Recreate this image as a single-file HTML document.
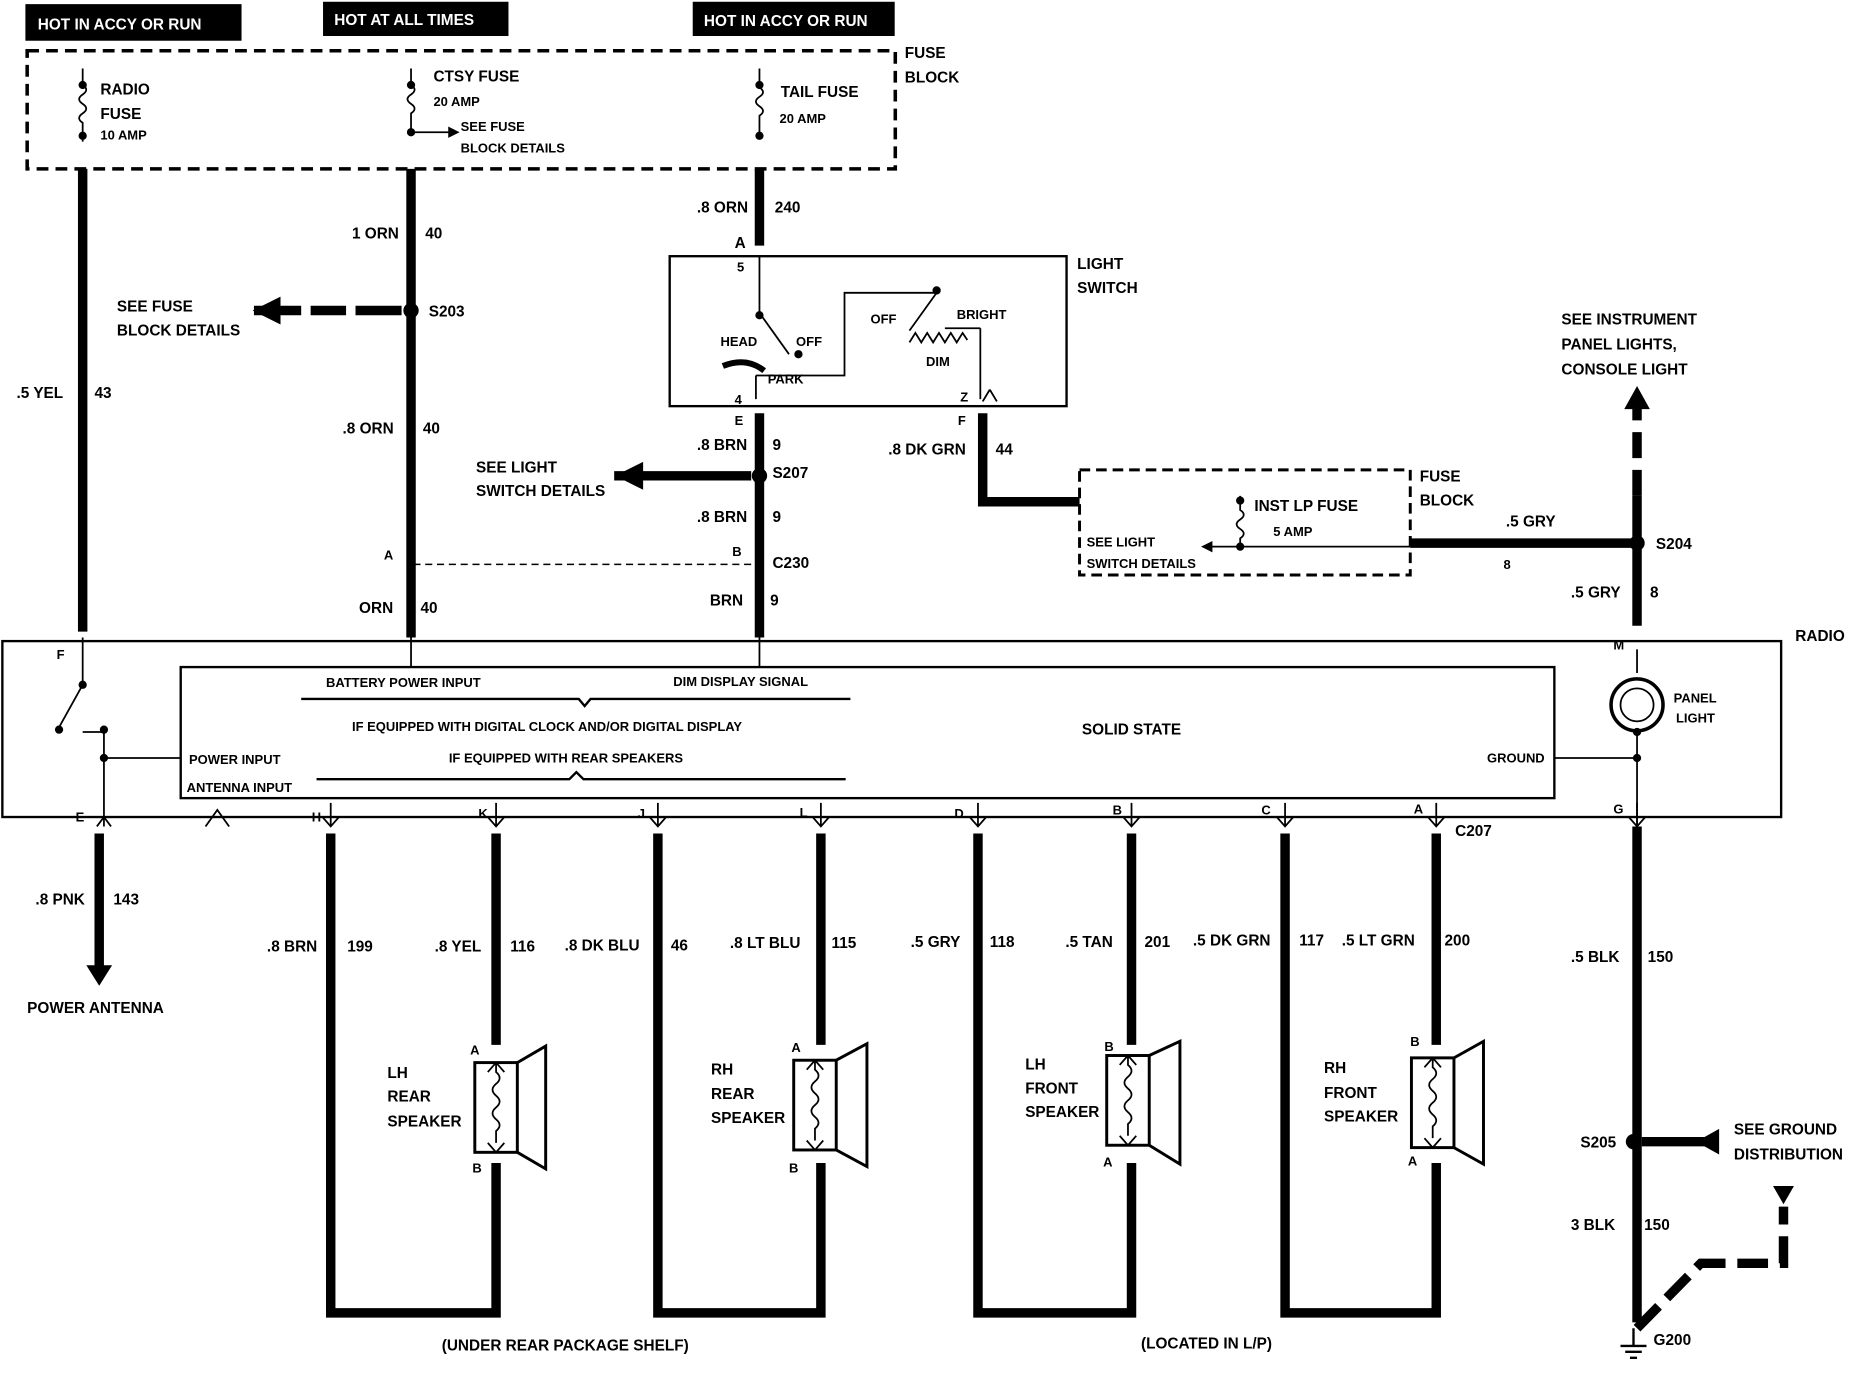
<!DOCTYPE html>
<html><head><meta charset="utf-8"><style>
html,body{margin:0;padding:0;background:#fff;}
svg{display:block}
text{font-family:"Liberation Sans",sans-serif;font-weight:bold;font-size:13px;fill:#000}
.s{font-size:11px}
.w{fill:#fff}
</style></head><body>
<svg width="1852" height="1392" viewBox="0 0 1568 1179" preserveAspectRatio="none" xmlns="http://www.w3.org/2000/svg">
<g stroke="#000" fill="none">
<rect x="22" y="4" width="182" height="30" fill="#000"/>
<rect x="274" y="2" width="156" height="28" fill="#000"/>
<rect x="587" y="2" width="170" height="28" fill="#000"/>
<rect x="23" y="43" width="735" height="100" stroke-width="3" stroke-dasharray="10,6"/>
<rect x="914" y="398" width="280" height="89" stroke-width="2.5" stroke-dasharray="9,5"/>
<path d="M70,58 V72 q6,4 0,8 q-6,4 0,8 q6,4 0,8 q-6,4 0,8 V120 M348,58 V72 q6,4 0,8 q-6,4 0,8 q6,4 0,8 V112 H380 M643,58 V74 q6,4 0,8 q-6,4 0,8 q6,4 0,8 V115 M1050,420 V432 q6,4 0,8 q-6,4 0,8 q6,4 0,8 V463 H1025 M1050,463 H1194" stroke-width="1.5"/>
<circle cx="70" cy="72" r="3" fill="#000"/><circle cx="70" cy="115" r="3" fill="#000"/><circle cx="348" cy="72" r="3" fill="#000"/><circle cx="348" cy="112" r="3" fill="#000"/><circle cx="643" cy="72" r="3" fill="#000"/><circle cx="643" cy="115" r="3" fill="#000"/><circle cx="1050" cy="463" r="3" fill="#000"/><circle cx="1050" cy="424" r="3" fill="#000"/>
<path d="M380,108 l8,4 l-8,4z M1018,463 l8,-4 v8z" fill="#000"/>
<g stroke-width="8">
<path d="M70,143 V535 M348,143 V540 M643,143 V208 M643,350 V540 M832,350 V425 H914 M1194,460 H1386 M1386,420 V530 M84,706 V818"/>
<path d="M1386,700 V1120"/>
<path d="M1386,1125 L1440,1070 H1510 V1022" stroke-dasharray="26,10"/>
<path d="M1386,420 V345" stroke-dasharray="22,10"/>
<path d="M280,706 V1112 H420 V985 M420,706 V885 M557,706 V1112 H695 V985 M695,706 V885 M828,706 V1112 H958 V985 M958,706 V885 M1088,706 V1112 H1216 V985 M1216,706 V885"/>
<path d="M215,263 H340" stroke-dasharray="40,8,30,8"/>
<path d="M520,403 H636"/>
<path d="M1390,967 H1445"/>
</g>
<path d="M215,263 l22,-11 v22z M522,403 l22,-11 v22z M1386,328 l-10,18 h20z M84,834 l-10,-16 h20z M1455,957 v20 l-18,-10z M1502,1005 h16 l-8,14z" fill="#000"/>
<circle cx="348" cy="263" r="6" fill="#000"/><circle cx="643" cy="403" r="6" fill="#000"/><circle cx="1386" cy="460" r="6" fill="#000"/><circle cx="1383" cy="967" r="6" fill="#000"/>
<path d="M1372,1140 H1394 M1376,1145 H1390 M1380,1150 H1386 M1383,1125 V1140" stroke-width="2"/>
<path d="M350,478 H640" stroke-width="1.2" stroke-dasharray="6,4"/>
<rect x="567" y="217" width="336" height="127" stroke-width="2"/>
<path d="M643,217 V265 L668,300 M640,318 H715 V248 H793 L770,280 M830,278 V338 M640,318 V338 M800,278 H830" stroke-width="1.5"/>
<path d="M770,290 l5,-8 l5,8 l5,-8 l5,8 l5,-8 l5,8 l5,-8 l5,8 l5,-8 l4,6" stroke-width="1.5"/>
<path d="M612,310 q20,-8 35,4" stroke-width="5"/>
<circle cx="643" cy="267" r="3" fill="#000"/><circle cx="676" cy="300" r="3" fill="#000"/><circle cx="793" cy="246" r="3" fill="#000"/>
<rect x="2" y="543" width="1506" height="149" stroke-width="2"/>
<rect x="153" y="565" width="1163" height="111" stroke-width="2"/>
<path d="M70,540 V580 L50,616 M70,620 H88 M88,618 V700 M88,642 H153 M1316,642 H1386 M1386,550 V570 M1386,620 V700 M348,540 V565 M643,540 V565" stroke-width="1.5"/>
<circle cx="70" cy="580" r="3" fill="#000"/><circle cx="50" cy="618" r="3" fill="#000"/><circle cx="88" cy="618" r="3" fill="#000"/><circle cx="88" cy="642" r="3" fill="#000"/><circle cx="1386" cy="642" r="3" fill="#000"/><circle cx="1386" cy="620" r="3" fill="#000"/>
<circle cx="1386" cy="597" r="22" stroke-width="3"/><circle cx="1386" cy="597" r="14" stroke-width="1.5"/>
<path d="M255,592 H490 l5,6 l5,-6 H720 M268,660 H482 l6,-6 l6,6 H716" stroke-width="2"/>
<path d="M174,700 l10,-14 l10,14" stroke-width="1.5"/>
<g stroke-width="1.5">
<path d="M280,680 V700 M273,692 l7,8 l7,-8 M420,680 V700 M413,692 l7,8 l7,-8 M557,680 V700 M550,692 l7,8 l7,-8 M695,680 V700 M688,692 l7,8 l7,-8 M828,680 V700 M821,692 l7,8 l7,-8 M958,680 V700 M951,692 l7,8 l7,-8 M1088,680 V700 M1081,692 l7,8 l7,-8 M1216,680 V700 M1209,692 l7,8 l7,-8 M1386,680 V700 M1379,692 l7,8 l7,-8 M88,692 l-6,8 M88,692 l6,8 M838,330 l-6,10 M838,330 l6,10"/>
</g>
<g stroke-width="2.5">
<rect x="402" y="900" width="36" height="76"/><path d="M438,900 L462,886 V990 L438,976"/>
<rect x="672" y="898" width="36" height="76"/><path d="M708,898 L734,884 V988 L708,974"/>
<rect x="937" y="894" width="36" height="76"/><path d="M973,894 L999,882 V986 L973,970"/>
<rect x="1195" y="896" width="36" height="76"/><path d="M1231,896 L1256,882 V986 L1231,972"/>
</g>
<g stroke-width="1.5">
<path d="M420,900 v8 q6,5 0,10 q-6,5 0,10 q6,5 0,10 q-6,5 0,10 q6,5 0,10 v10 M413,908 l7,-8 l7,8 M413,968 l7,8 l7,-8"/>
<path d="M690,898 v8 q6,5 0,10 q-6,5 0,10 q6,5 0,10 q-6,5 0,10 q6,5 0,10 v10 M683,906 l7,-8 l7,8 M683,966 l7,8 l7,-8"/>
<path d="M955,894 v8 q6,5 0,10 q-6,5 0,10 q6,5 0,10 q-6,5 0,10 q6,5 0,10 v10 M948,902 l7,-8 l7,8 M948,962 l7,8 l7,-8"/>
<path d="M1213,896 v8 q6,5 0,10 q-6,5 0,10 q6,5 0,10 q-6,5 0,10 q6,5 0,10 v10 M1206,904 l7,-8 l7,8 M1206,964 l7,8 l7,-8"/>
</g>
</g>
<text class="w" x="32" y="25" font-size="14">HOT IN ACCY OR RUN</text>
<text class="w" x="283" y="21" font-size="14">HOT AT ALL TIMES</text>
<text class="w" x="596" y="22" font-size="14">HOT IN ACCY OR RUN</text>
<text x="766" y="49">FUSE</text><text x="766" y="70">BLOCK</text>
<text x="85" y="80">RADIO</text><text x="85" y="101">FUSE</text><text class="s" x="85" y="118">10 AMP</text>
<text x="367" y="69">CTSY FUSE</text><text class="s" x="367" y="90">20 AMP</text><text class="s" x="390" y="111">SEE FUSE</text><text class="s" x="390" y="129">BLOCK DETAILS</text>
<text x="661" y="82">TAIL FUSE</text><text class="s" x="660" y="104">20 AMP</text>
<text x="298" y="202">1 ORN</text><text x="360" y="202">40</text>
<text x="590" y="180">.8 ORN</text><text x="656" y="180">240</text>
<text x="99" y="264">SEE FUSE</text><text x="99" y="284">BLOCK DETAILS</text>
<text x="363" y="268">S203</text>
<text x="912" y="228">LIGHT</text><text x="912" y="248">SWITCH</text>
<text x="622" y="210">A</text><text class="s" x="624" y="230">5</text>
<text class="s" x="610" y="293">HEAD</text><text class="s" x="674" y="293">OFF</text><text class="s" x="650" y="325">PARK</text>
<text class="s" x="737" y="274">OFF</text><text class="s" x="810" y="270">BRIGHT</text><text class="s" x="784" y="310">DIM</text>
<text class="s" x="622" y="342">4</text><text class="s" x="813" y="340">Z</text>
<text x="14" y="337">.5 YEL</text><text x="80" y="337">43</text>
<text x="290" y="367">.8 ORN</text><text x="358" y="367">40</text>
<text class="s" x="622" y="360">E</text><text class="s" x="811" y="360">F</text>
<text x="590" y="381">.8 BRN</text><text x="654" y="381">9</text>
<text x="752" y="385">.8 DK GRN</text><text x="843" y="385">44</text>
<text x="403" y="400">SEE LIGHT</text><text x="403" y="420">SWITCH DETAILS</text>
<text x="654" y="405">S207</text>
<text x="1202" y="408">FUSE</text><text x="1202" y="428">BLOCK</text>
<text x="1062" y="433">INST LP FUSE</text><text class="s" x="1078" y="454">5 AMP</text>
<text class="s" x="920" y="463">SEE LIGHT</text><text class="s" x="920" y="481">SWITCH DETAILS</text>
<text x="1275" y="446">.5 GRY</text><text x="1402" y="465">S204</text><text class="s" x="1273" y="482">8</text>
<text x="1322" y="275">SEE INSTRUMENT</text><text x="1322" y="296">PANEL LIGHTS,</text><text x="1322" y="317">CONSOLE LIGHT</text>
<text x="590" y="442">.8 BRN</text><text x="654" y="442">9</text>
<text class="s" x="620" y="471">B</text><text x="654" y="481">C230</text><text class="s" x="325" y="474">A</text>
<text x="304" y="519">ORN</text><text x="356" y="519">40</text>
<text x="601" y="513">BRN</text><text x="652" y="513">9</text>
<text x="1330" y="506">.5 GRY</text><text x="1397" y="506">8</text>
<text x="1520" y="543">RADIO</text>
<text class="s" x="1366" y="550">M</text>
<text class="s" x="48" y="558">F</text>
<text class="s" x="276" y="582">BATTERY POWER INPUT</text><text class="s" x="570" y="581">DIM DISPLAY SIGNAL</text>
<text class="s" x="298" y="619">IF EQUIPPED WITH DIGITAL CLOCK AND/OR DIGITAL DISPLAY</text>
<text x="916" y="622">SOLID STATE</text>
<text class="s" x="1417" y="595">PANEL</text><text class="s" x="1419" y="612">LIGHT</text>
<text class="s" x="160" y="647">POWER INPUT</text><text class="s" x="380" y="646">IF EQUIPPED WITH REAR SPEAKERS</text>
<text class="s" x="1259" y="646">GROUND</text><text class="s" x="158" y="671">ANTENNA INPUT</text>
<text class="s" x="64" y="696">E</text><text class="s" x="264" y="696">H</text><text class="s" x="405" y="693">K</text><text class="s" x="540" y="693">J</text><text class="s" x="677" y="692">L</text><text class="s" x="808" y="693">D</text><text class="s" x="942" y="690">B</text><text class="s" x="1068" y="690">C</text><text class="s" x="1197" y="689">A</text><text class="s" x="1366" y="689">G</text>
<text x="1232" y="708">C207</text>
<text x="30" y="766">.8 PNK</text><text x="96" y="766">143</text>
<text x="23" y="858">POWER ANTENNA</text>
<text x="226" y="806">.8 BRN</text><text x="294" y="806">199</text>
<text x="368" y="806">.8 YEL</text><text x="432" y="806">116</text>
<text x="478" y="805">.8 DK BLU</text><text x="568" y="805">46</text>
<text x="618" y="803">.8 LT BLU</text><text x="704" y="803">115</text>
<text x="771" y="802">.5 GRY</text><text x="838" y="802">118</text>
<text x="902" y="802">.5 TAN</text><text x="969" y="802">201</text>
<text x="1010" y="801">.5 DK GRN</text><text x="1100" y="801">117</text>
<text x="1136" y="801">.5 LT GRN</text><text x="1223" y="801">200</text>
<text x="1330" y="815">.5 BLK</text><text x="1395" y="815">150</text>
<text class="s" x="398" y="893">A</text><text class="s" x="400" y="993">B</text>
<text class="s" x="670" y="891">A</text><text class="s" x="668" y="993">B</text>
<text class="s" x="935" y="890">B</text><text class="s" x="934" y="988">A</text>
<text class="s" x="1194" y="886">B</text><text class="s" x="1192" y="987">A</text>
<text x="328" y="913">LH</text><text x="328" y="933">REAR</text><text x="328" y="954">SPEAKER</text>
<text x="602" y="910">RH</text><text x="602" y="931">REAR</text><text x="602" y="951">SPEAKER</text>
<text x="868" y="906">LH</text><text x="868" y="926">FRONT</text><text x="868" y="946">SPEAKER</text>
<text x="1121" y="909">RH</text><text x="1121" y="930">FRONT</text><text x="1121" y="950">SPEAKER</text>
<text x="1338" y="972">S205</text>
<text x="1468" y="961">SEE GROUND</text><text x="1468" y="982">DISTRIBUTION</text>
<text x="1330" y="1042">3 BLK</text><text x="1392" y="1042">150</text>
<text x="1400" y="1139">G200</text>
<text x="374" y="1144">(UNDER REAR PACKAGE SHELF)</text>
<text x="966" y="1142">(LOCATED IN L/P)</text>
</svg>
</body></html>
